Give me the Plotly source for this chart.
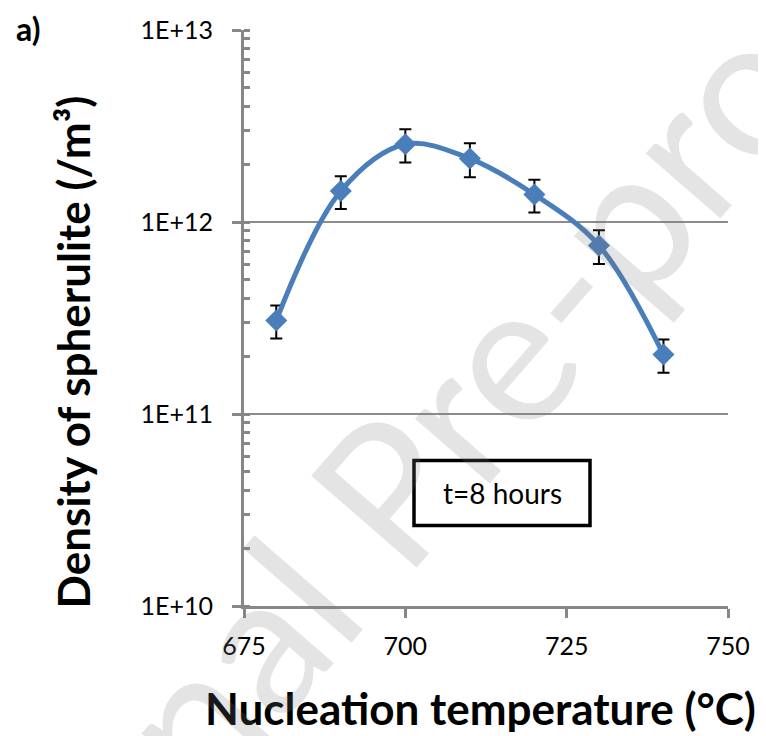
import plotly.graph_objects as go

# Data
temperature = [680, 690, 700, 710, 720, 730, 740]
density = [3.07e11, 1.45e12, 2.54e12, 2.14e12, 1.39e12, 7.55e11, 2.04e11]
err = [0.6e11, 0.28e12, 0.5e12, 0.43e12, 0.27e12, 0.15e12, 0.4e11]
x_ticks = [675, 700, 725, 750]
y_ticks = [1e10, 1e11, 1e12, 1e13]
y_ticklabels = ["1E+10", "1E+11", "1E+12", "1E+13"]

AX = "#878787"
FONT = "Lato"

# plot area in page pixels (page has an 8px body margin)
PX0, PX1, PY0, PY1 = 244, 728, 29.6, 605.6
W, H = 758, 728


def px(x):
    return (x - PX0) / (PX1 - PX0)


def py(y):
    return (PY1 - y) / (PY1 - PY0)


fig = go.Figure()
fig.add_trace(go.Scatter(
    x=temperature, y=density, mode="lines+markers",
    line=dict(color="#4a7ebb", width=5, shape="spline", smoothing=1.0),
    marker=dict(symbol="diamond", size=17, color="#4a7ebb"),
    error_y=dict(type="data", array=err, color="black", thickness=2, width=6),
    showlegend=False,
))

fig.update_layout(
    width=W, height=H,
    margin=dict(l=PX0 - 8, r=8 + W - PX1, t=PY0 - 8, b=8 + H - PY1),
    paper_bgcolor="white", plot_bgcolor="white",
    font=dict(family=FONT, color="black"),
    xaxis=dict(
        range=[675, 750], tickvals=x_ticks, ticktext=[str(v) for v in x_ticks],
        showgrid=False, showline=True, linecolor=AX, linewidth=3,
        ticks="outside", ticklen=9, tickwidth=3, tickcolor=AX,
        tickfont=dict(size=25, family=FONT), ticklabelstandoff=7,
        zeroline=False, automargin=False,
    ),
    yaxis=dict(
        type="log", range=[10, 13], tickvals=y_ticks, ticktext=y_ticklabels,
        showgrid=True, gridcolor="#8c8c8c", gridwidth=1.5,
        showline=True, linecolor=AX, linewidth=3,
        ticks="outside", ticklen=9, tickwidth=3, tickcolor=AX,
        tickfont=dict(size=25, family=FONT), ticklabelstandoff=14,
        minor=dict(ticks="inside", ticklen=6, tickwidth=3, tickcolor=AX,
                   dtick="D1", showgrid=False),
        zeroline=False, automargin=False,
    ),
)

# text box
fig.add_shape(type="rect", xref="paper", yref="paper",
              x0=px(414), x1=px(590), y0=py(525), y1=py(460),
              line=dict(color="black", width=3.5), fillcolor="white")
fig.add_annotation(xref="paper", yref="paper", x=px(502), y=py(493),
                   xanchor="center", yanchor="middle",
                   text="t=8 hours", showarrow=False,
                   font=dict(size=28, family=FONT, color="black"))

# axis titles
fig.add_annotation(xref="paper", yref="paper", x=px(480), y=py(708),
                   xanchor="center", yanchor="middle",
                   text="<b>Nucleation temperature (°C)</b>", showarrow=False,
                   font=dict(size=44, family=FONT, color="black"))
fig.add_annotation(xref="paper", yref="paper", x=px(73), y=py(352),
                   xanchor="center", yanchor="middle",
                   text="<b>Density of spherulite (/m³)</b>", showarrow=False, textangle=-90,
                   font=dict(size=44, family=FONT, color="black"))
fig.add_annotation(xref="paper", yref="paper", x=px(28), y=py(28),
                   xanchor="center", yanchor="middle",
                   text="<b>a)</b>", showarrow=False,
                   font=dict(size=32, family=FONT, color="black"))

# watermark
fig.add_annotation(xref="paper", yref="paper", x=px(398), y=py(475),
                   xanchor="center", yanchor="middle",
                   text="Journal Pre-proof", showarrow=False, textangle=-49,
                   font=dict(size=195, family=FONT, color="rgba(120,120,120,0.2)"))

fig.write_html("out.html")
